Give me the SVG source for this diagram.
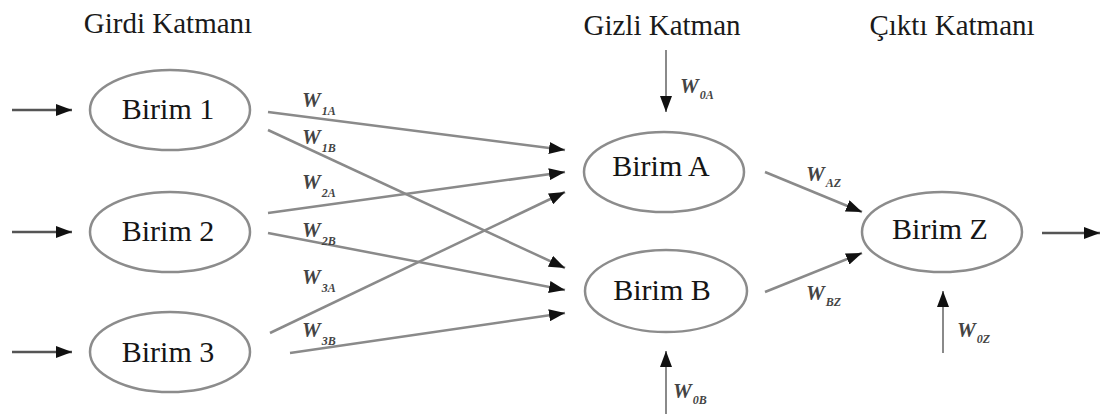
<svg xmlns="http://www.w3.org/2000/svg" width="1107" height="414" viewBox="0 0 1107 414">
  <defs>
    <marker id="head" viewBox="0 0 16 12" refX="16" refY="6" markerWidth="16" markerHeight="12" markerUnits="userSpaceOnUse" orient="auto">
      <path d="M0,0 L16,6 L0,12 z" fill="#111"/>
    </marker>
    <style>
      text { font-family: 'Liberation Serif', 'Times New Roman', Times, 'Noto Serif', 'DejaVu Serif', FreeSerif, Tinos, serif; }
      .unit { fill: #fff; stroke: #8c8c8c; stroke-width: 2.5; }
      .label { font-size: 30px; fill: #151515; text-anchor: middle; }
      .layer { font-size: 29px; fill: #1a1a1a; text-anchor: middle; }
      .edge { stroke: #8a8a8a; stroke-width: 2.5; fill: none; marker-end: url(#head); }
      .io { stroke: #555; stroke-width: 2.5; fill: none; marker-end: url(#head); }
      .bias { stroke: #8a8a8a; stroke-width: 2; fill: none; marker-end: url(#head); }
      .w { font-style: italic; font-weight: bold; font-size: 21px; fill: #444; }
      .w tspan { font-size: 12px; }
    </style>
  </defs>

  <rect width="1107" height="414" fill="#fff"/>

  <!-- layer titles -->
  <g id="titles">
    <text class="layer" x="168" y="33">Girdi Katmanı</text>
    <text class="layer" x="662" y="35">Gizli Katman</text>
    <text class="layer" x="952" y="35">Çıktı Katmanı</text>
  </g>

  <!-- connectors -->
  <g id="connectors">
    <!-- inputs -->
    <line class="io" x1="12" y1="110" x2="72" y2="110"/>
    <line class="io" x1="12" y1="232" x2="72" y2="232"/>
    <line class="io" x1="12" y1="352" x2="72" y2="352"/>
    <!-- input to hidden -->
    <line class="edge" x1="268" y1="112" x2="565" y2="150"/>
    <line class="edge" x1="268" y1="130" x2="565" y2="268"/>
    <line class="edge" x1="268" y1="213" x2="565" y2="172"/>
    <line class="edge" x1="268" y1="233" x2="565" y2="290"/>
    <line class="edge" x1="270" y1="333" x2="565" y2="192"/>
    <line class="edge" x1="290" y1="353" x2="565" y2="313"/>
    <!-- hidden to output -->
    <line class="edge" x1="765" y1="172" x2="862" y2="212"/>
    <line class="edge" x1="765" y1="292" x2="862" y2="253"/>
    <!-- biases -->
    <line class="bias" x1="666" y1="50" x2="666" y2="112"/>
    <line class="bias" x1="666" y1="414" x2="666" y2="351"/>
    <line class="bias" x1="943" y1="353" x2="943" y2="291"/>
    <!-- output -->
    <line class="io" x1="1042" y1="233" x2="1100" y2="233"/>
  </g>

  <!-- weight labels -->
  <g id="weights">
    <text class="w" x="302" y="107">W<tspan dx="1" dy="8">1A</tspan></text>
    <text class="w" x="302" y="144">W<tspan dx="1" dy="8">1B</tspan></text>
    <text class="w" x="302" y="189">W<tspan dx="1" dy="8">2A</tspan></text>
    <text class="w" x="302" y="237">W<tspan dx="1" dy="8">2B</tspan></text>
    <text class="w" x="302" y="284">W<tspan dx="1" dy="8">3A</tspan></text>
    <text class="w" x="302" y="337">W<tspan dx="1" dy="8">3B</tspan></text>
    <text class="w" x="680" y="93">W<tspan dx="1" dy="6">0A</tspan></text>
    <text class="w" x="673" y="398">W<tspan dx="1" dy="6">0B</tspan></text>
    <text class="w" x="806" y="181">W<tspan dx="1" dy="6">AZ</tspan></text>
    <text class="w" x="806" y="300">W<tspan dx="1" dy="6">BZ</tspan></text>
    <text class="w" x="957" y="337">W<tspan dx="1" dy="6">0Z</tspan></text>
  </g>

  <!-- input layer -->
  <g id="unit1">
    <ellipse class="unit" cx="170" cy="110" rx="80" ry="40"/>
    <text class="label" x="168" y="119">Birim 1</text>
  </g>
  <g id="unit2">
    <ellipse class="unit" cx="170" cy="232" rx="80" ry="40"/>
    <text class="label" x="168" y="241">Birim 2</text>
  </g>
  <g id="unit3">
    <ellipse class="unit" cx="170" cy="352" rx="80" ry="40"/>
    <text class="label" x="168" y="362">Birim 3</text>
  </g>

  <!-- hidden layer -->
  <g id="unitA">
    <ellipse class="unit" cx="664" cy="172" rx="80" ry="40"/>
    <text class="label" x="661" y="176">Birim A</text>
  </g>
  <g id="unitB">
    <ellipse class="unit" cx="666" cy="291" rx="81" ry="41"/>
    <text class="label" x="662" y="300">Birim B</text>
  </g>

  <!-- output layer -->
  <g id="unitZ">
    <ellipse class="unit" cx="942" cy="232" rx="80" ry="40"/>
    <text class="label" x="940" y="239">Birim Z</text>
  </g>
</svg>
